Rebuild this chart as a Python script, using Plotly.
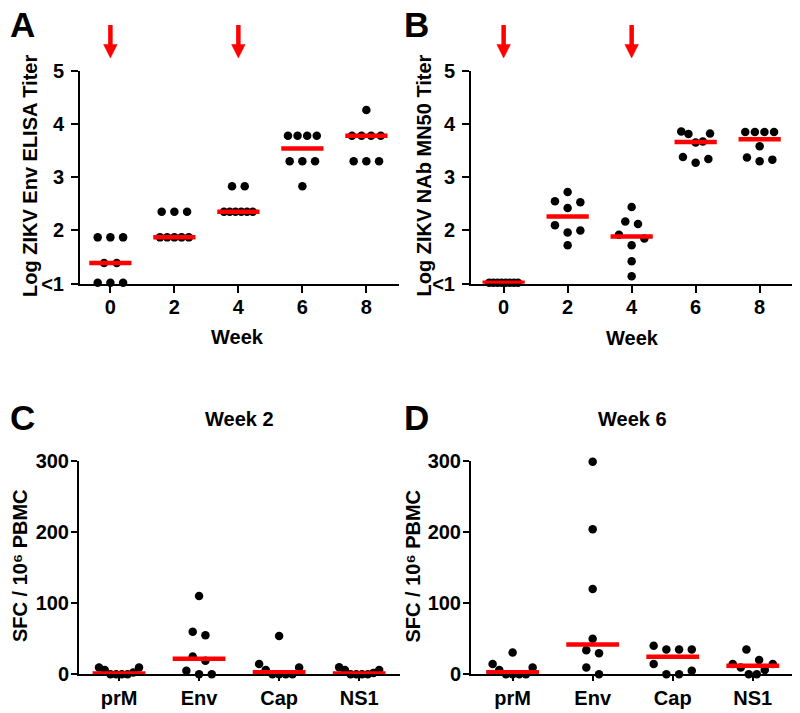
import numpy as np
import plotly.graph_objects as go

W, H = 800, 713
FONT = "Arial, 'Liberation Sans', Helvetica, sans-serif"

# ---------------- data ----------------
weeks = [0, 2, 4, 6, 8]
immunization_weeks = [0, 4]

# Panel A: Log ZIKV Env ELISA titer (8 animals per time point)
elisa_titers = [
    [1.87, 1.87, 1.87, 1.39, 1.39, 1.02, 1.02, 1.02],
    [2.35, 2.35, 2.35, 1.87, 1.87, 1.87, 1.87, 1.87],
    [2.83, 2.83, 2.35, 2.35, 2.35, 2.35, 2.35, 2.35],
    [3.78, 3.78, 3.78, 3.78, 3.30, 3.30, 3.30, 2.83],
    [4.26, 3.78, 3.78, 3.78, 3.78, 3.30, 3.30, 3.30],
]

# Panel B: Log ZIKV NAb MN50 titer
nab_titers = [
    [1.02, 1.02, 1.02, 1.02, 1.02, 1.02, 1.02, 1.02],
    [2.72, 2.55, 2.53, 2.42, 2.10, 2.00, 1.96, 1.72],
    [2.44, 2.17, 2.12, 1.92, 1.85, 1.72, 1.42, 1.14],
    [3.86, 3.82, 3.81, 3.67, 3.65, 3.38, 3.34, 3.27],
    [3.85, 3.85, 3.85, 3.85, 3.58, 3.37, 3.33, 3.30],
]
titer_ticks = [1, 2, 3, 4, 5]
titer_ticktext = ["<1", "2", "3", "4", "5"]

# Panels C/D: SFC / 10^6 PBMC by antigen
antigens = ["prM", "Env", "Cap", "NS1"]
sfc_week2 = [
    [9.5, 9.5, 6, 2.5, 0, 0, 0, 0],
    [110, 60, 55, 25, 19, 5, 0, 0],
    [54, 14.5, 9.5, 6, 0, 0, 0, 0],
    [10, 6, 6, 2, 0, 0, 0, 0],
]
sfc_week6 = [
    [30.5, 14.5, 9.5, 6, 0, 0, 0, 0],
    [299, 204, 120, 50, 34, 29.5, 9.5, 0],
    [40, 35, 35, 35, 14.5, 5, 0, 0],
    [35, 20, 14.5, 14.5, 9.5, 6, 0, 0],
]
sfc_ticks = [0, 100, 200, 300]


# ---------------- helpers ----------------
def px_x(px):
    return px / W


def px_y(py):
    return 1 - py / H


def swarm_offsets(values, px_per_y, max_width_px, spacing_px=12.7, row_px=12.0):
    """Prism-like column scatter: values close in y share a centred row."""
    vals = np.asarray(values, dtype=float)
    order = np.argsort(vals, kind="stable")
    rows = []
    for idx in order:
        if rows and (vals[idx] - vals[rows[-1][0]]) * px_per_y < row_px:
            rows[-1].append(idx)
        else:
            rows.append([idx])
    off = np.zeros(len(vals))
    for row in rows:
        n = len(row)
        if n == 1:
            continue
        sp = min(spacing_px, max_width_px / (n - 1))
        for i, idx in enumerate(row):
            if n % 2:
                k = (i + 1) // 2
                s = 1 if i % 2 else -1
            else:
                k = i // 2 + 0.5
                s = 1 if i % 2 == 0 else -1
            off[idx] = s * k * sp
    return off


panels = [
    dict(key="A", xa="x", ya="y", xpx=(80, 399), ypx=(70.7, 283.7),
         xrange=(-0.95, 9.02), yrange=(1, 5), centers=weeks, groups=elisa_titers,
         spacing=2, maxw=0.45, arrows=True),
    dict(key="B", xa="x2", ya="y2", xpx=(471, 792.3), ypx=(70.7, 283.7),
         xrange=(-1.02, 9.02), yrange=(1, 5), centers=weeks, groups=nab_titers,
         spacing=2, maxw=0.45, arrows=True),
    dict(key="C", xa="x3", ya="y3", xpx=(79, 400), ypx=(461, 674.3),
         xrange=(-0.5, 3.51), yrange=(0, 300), centers=list(range(len(antigens))),
         groups=sfc_week2, spacing=1, maxw=0.5, arrows=False),
    dict(key="D", xa="x4", ya="y4", xpx=(471, 792), ypx=(461, 674.3),
         xrange=(-0.52, 3.49), yrange=(0, 300), centers=list(range(len(antigens))),
         groups=sfc_week6, spacing=1, maxw=0.5, arrows=False),
]

fig = go.Figure()
layout_axes = {}


def axis_style(size):
    return dict(
        showline=True, linecolor="black", linewidth=2, mirror=False,
        ticks="outside", ticklen=7, tickwidth=2, tickcolor="black",
        showgrid=False, zeroline=False, fixedrange=True,
        tickfont=dict(family=FONT, size=size, color="black", weight="bold"),
    )


ARROW_BAND = (25, 58)  # px band above panels A/B holding the immunization arrows
HEAD_H, HEAD_HALF_W = 13.5, 6.8  # arrow head size, px
next_axis = 5

for p in panels:
    x0, x1 = p["xpx"]
    y0, y1 = p["ypx"]
    ppx = (x1 - x0) / (p["xrange"][1] - p["xrange"][0])
    ppy = (y1 - y0) / (p["yrange"][1] - p["yrange"][0])
    xs, ys, mx, my = [], [], [], []
    for c, vals in zip(p["centers"], p["groups"]):
        off = swarm_offsets(vals, ppy, p["maxw"] * p["spacing"] * ppx)
        xs += list(c + off / ppx)
        ys += list(vals)
        med = float(np.median(vals))
        hw = 0.33 * p["spacing"]
        mx += [c - hw, c + hw, None]
        my += [med, med, None]
    fig.add_trace(go.Scatter(
        x=xs, y=ys, mode="markers", xaxis=p["xa"], yaxis=p["ya"],
        marker=dict(color="black", size=8.5, line=dict(width=0)),
        cliponaxis=False, hoverinfo="skip", showlegend=False))
    fig.add_trace(go.Scatter(
        x=mx, y=my, mode="lines", xaxis=p["xa"], yaxis=p["ya"],
        line=dict(color="red", width=4.5), cliponaxis=False,
        hoverinfo="skip", showlegend=False))

    xname = "xaxis" + p["xa"][1:]
    yname = "yaxis" + p["ya"][1:]
    big = p["key"] in ("C", "D")
    xa = dict(axis_style(20), domain=[px_x(x0), px_x(x1)],
              range=list(p["xrange"]), anchor=p["ya"])
    ya = dict(axis_style(20), domain=[px_y(y1), px_y(y0)],
              range=list(p["yrange"]), anchor=p["xa"])
    if not big:
        xa.update(tickvals=weeks, ticktext=[str(w) for w in weeks],
                  ticklabelstandoff=-3)
        ya.update(tickvals=titer_ticks, ticktext=titer_ticktext,
                  ticklabelstandoff=3)
    else:
        xa.update(tickvals=p["centers"], ticktext=antigens, ticklen=5)
        ya.update(tickvals=sfc_ticks, ticktext=[str(t) for t in sfc_ticks],
                  ticklen=6, ticklabelstandoff=-2)
    layout_axes[xname] = xa
    layout_axes[yname] = ya

    # immunization arrows drawn in a hidden band axis above the panel
    if p["arrows"]:
        bx, by = "x%d" % next_axis, "y%d" % next_axis
        band_h = ARROW_BAND[1] - ARROW_BAND[0]
        layout_axes["xaxis%d" % next_axis] = dict(
            domain=[px_x(x0), px_x(x1)], range=list(p["xrange"]), visible=False,
            anchor=by, fixedrange=True)
        layout_axes["yaxis%d" % next_axis] = dict(
            domain=[px_y(ARROW_BAND[1]), px_y(ARROW_BAND[0])], range=[0, band_h],
            visible=False, anchor=bx, fixedrange=True)
        head_hw = HEAD_HALF_W / ppx
        sx, sy, hx, hy = [], [], [], []
        for w in immunization_weeks:
            sx += [w, w, None]
            sy += [band_h, HEAD_H - 1, None]
            hx += [w - head_hw, w + head_hw, w, w - head_hw, None]
            hy += [HEAD_H, HEAD_H, 0, HEAD_H, None]
        fig.add_trace(go.Scatter(
            x=sx, y=sy, mode="lines", xaxis=bx, yaxis=by,
            line=dict(color="red", width=4.5), hoverinfo="skip", showlegend=False))
        fig.add_trace(go.Scatter(
            x=hx, y=hy, mode="lines", fill="toself", fillcolor="red", xaxis=bx,
            yaxis=by, line=dict(color="red", width=0.5), hoverinfo="skip",
            showlegend=False))
        next_axis += 1

annotations = []


def label(text, xpx, ypx, size, angle=0, xanchor="center"):
    annotations.append(dict(
        text=text, x=px_x(xpx), y=px_y(ypx), xref="paper", yref="paper",
        showarrow=False, xanchor=xanchor, yanchor="middle", textangle=angle,
        font=dict(family=FONT, size=size, color="black", weight="bold")))


# panel letters
label("A", 22, 24, 35)
label("B", 416, 24, 35)
label("C", 22, 417, 35)
label("D", 416, 417, 35)

# axis titles
label("Log ZIKV Env ELISA Titer", 30, 176, 20, angle=-90)
label("Log ZIKV NAb MN50 Titer", 423.5, 176, 20, angle=-90)
label("Week", 237, 337, 20)
label("Week", 632, 338, 20)
label("SFC / 10\u2076 PBMC", 20, 566, 20, angle=-90)
label("SFC / 10\u2076 PBMC", 412.5, 566, 20, angle=-90)
label("Week 2", 239, 419, 20)
label("Week 6", 632, 419, 20)

fig.update_layout(
    width=W, height=H, margin=dict(l=0, r=0, t=0, b=0, autoexpand=False),
    paper_bgcolor="white", plot_bgcolor="white",
    annotations=annotations, showlegend=False,
    font=dict(family=FONT, color="black"),
    **layout_axes)

# the page's default 8px body margin would shift the figure; remove it
fig.write_html("out.html", config={"displayModeBar": False},
               post_script="document.body.style.margin='0px';")
